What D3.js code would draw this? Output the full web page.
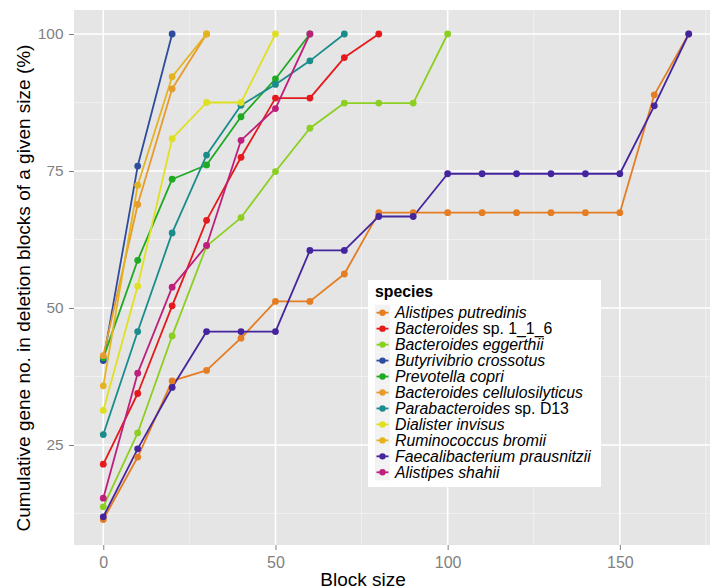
<!DOCTYPE html>
<html>
<head>
<meta charset="utf-8">
<script src="https://cdn.jsdelivr.net/npm/d3@7"></script>
<style>
  body { margin: 0; background: #fff; }
  svg { display: block; }
  text { font-family: "Liberation Sans", Arial, Helvetica, sans-serif; }
</style>
</head>
<body>
<svg id="chart" width="710" height="588"></svg>
<script>
// Block sizes on the x axis
const blockSize = [0, 10, 20, 30, 40, 50, 60, 70, 80, 90, 100, 110, 120, 130, 140, 150, 160, 170];

// Species, in legend / drawing order
const species = [
  "Alistipes putredinis",
  "Bacteroides sp. 1_1_6",
  "Bacteroides eggerthii",
  "Butyrivibrio crossotus",
  "Prevotella copri",
  "Bacteroides cellulosilyticus",
  "Parabacteroides sp. D13",
  "Dialister invisus",
  "Ruminococcus bromii",
  "Faecalibacterium prausnitzii",
  "Alistipes shahii"
];

// Cumulative gene share (%) per block size, starting at block size 0
const alistipesPutredinis = [11.4, 22.8, 36.7, 38.6, 44.5, 51.2, 51.2, 56.2, 67.4, 67.4, 67.4, 67.4, 67.4, 67.4, 67.4, 67.4, 88.9, 100];
const bacteroidesSp116 = [21.5, 34.4, 50.4, 66.0, 77.5, 88.3, 88.3, 95.7, 100];
const bacteroidesEggerthii = [13.7, 27.2, 44.9, 61.3, 66.5, 74.9, 82.8, 87.4, 87.4, 87.4, 100];
const butyrivibrioCrossotus = [40.4, 75.9, 100];
const prevotellaCopri = [40.9, 58.7, 73.5, 76.1, 84.9, 91.8, 100];
const bacteroidesCellulosilyticus = [41.3, 68.9, 90.0, 100];
const parabacteroidesSpD13 = [26.9, 45.7, 63.7, 77.9, 87.0, 90.8, 95.1, 100];
const dialisterInvisus = [31.3, 54.0, 80.9, 87.5, 87.5, 100];
const ruminococcusBromii = [35.8, 72.4, 92.2, 100];
const faecalibacteriumPrausnitzii = [11.9, 24.3, 35.5, 45.7, 45.7, 45.7, 60.5, 60.5, 66.7, 66.7, 74.5, 74.5, 74.5, 74.5, 74.5, 74.5, 86.9, 100];
const alistipesShahii = [15.3, 38.1, 53.8, 61.4, 80.6, 86.4, 100];

// Axis tick labels
const xTicks = [0, 50, 100, 150];
const yTicks = [25, 50, 75, 100];

const seriesValues = [
  alistipesPutredinis, bacteroidesSp116, bacteroidesEggerthii, butyrivibrioCrossotus,
  prevotellaCopri, bacteroidesCellulosilyticus, parabacteroidesSpD13, dialisterInvisus,
  ruminococcusBromii, faecalibacteriumPrausnitzii, alistipesShahii
];

const palette = [
  "#e57d22", "#e41a1c", "#8ccf21", "#2e4c9e", "#1eaa23", "#e69b2c",
  "#1b8c8c", "#e0e022", "#e4b420", "#45259e", "#bf1f7c"
];

const series = species.map((name, i) => ({
  name,
  color: palette[i],
  points: seriesValues[i].map((v, j) => ({ x: blockSize[j], y: v }))
}));

// Layout
const panel = { left: 74, top: 10, right: 718, bottom: 545 };

const x = d3.scaleLinear().domain([-8.5, 178.5]).range([panel.left, panel.right]);
const y = d3.scaleLinear().domain([6.75, 104.38]).range([panel.bottom, panel.top]);

const svg = d3.select("#chart");

// Panel background
svg.append("rect")
  .attr("x", panel.left).attr("y", panel.top)
  .attr("width", panel.right - panel.left).attr("height", panel.bottom - panel.top)
  .attr("fill", "#e5e5e5");

const grid = svg.append("g");
const xMinor = [25, 75, 125, 175];
const yMinor = [12.5, 37.5, 62.5, 87.5];

grid.selectAll(".xminor").data(xMinor).join("line")
  .attr("x1", d => x(d)).attr("x2", d => x(d))
  .attr("y1", panel.top).attr("y2", panel.bottom)
  .attr("stroke", "#f2f2f2").attr("stroke-width", 0.8);
grid.selectAll(".yminor").data(yMinor).join("line")
  .attr("y1", d => y(d)).attr("y2", d => y(d))
  .attr("x1", panel.left).attr("x2", panel.right)
  .attr("stroke", "#f2f2f2").attr("stroke-width", 0.8);
grid.selectAll(".xmajor").data(xTicks).join("line")
  .attr("x1", d => x(d)).attr("x2", d => x(d))
  .attr("y1", panel.top).attr("y2", panel.bottom)
  .attr("stroke", "#ffffff").attr("stroke-width", 1.6);
grid.selectAll(".ymajor").data(yTicks).join("line")
  .attr("y1", d => y(d)).attr("y2", d => y(d))
  .attr("x1", panel.left).attr("x2", panel.right)
  .attr("stroke", "#ffffff").attr("stroke-width", 1.6);

// Lines, then points, in species order
const line = d3.line().x(d => x(d.x)).y(d => y(d.y));
const plot = svg.append("g");

plot.selectAll(".series-line").data(series).join("path")
  .attr("class", "series-line")
  .attr("d", d => line(d.points))
  .attr("fill", "none")
  .attr("stroke", d => d.color)
  .attr("stroke-width", 1.8)
  .attr("stroke-linejoin", "round");

series.forEach(s => {
  plot.append("g").selectAll("circle").data(s.points).join("circle")
    .attr("cx", d => x(d.x)).attr("cy", d => y(d.y))
    .attr("r", 3.4).attr("fill", s.color);
});

// Axes
const tickColor = "#7f7f7f";
const xAxis = svg.append("g")
  .attr("transform", `translate(0,${panel.bottom})`)
  .call(d3.axisBottom(x).tickValues(xTicks).tickSize(5).tickPadding(6.5).tickFormat(d3.format("d")));
const yAxis = svg.append("g")
  .attr("transform", `translate(${panel.left},0)`)
  .call(d3.axisLeft(y).tickValues(yTicks).tickSize(5).tickPadding(5.5).tickFormat(d3.format("d")));

[xAxis, yAxis].forEach(a => {
  a.select(".domain").remove();
  a.selectAll(".tick line").attr("stroke", tickColor).attr("stroke-width", 1);
  a.selectAll(".tick text").attr("fill", tickColor)
    .attr("font-family", "'Liberation Sans', Arial, sans-serif");
});
xAxis.selectAll(".tick text").attr("font-size", 16);
yAxis.selectAll(".tick text").attr("font-size", 15.4);

// Axis titles
svg.append("text")
  .attr("x", 363).attr("y", 585.5)
  .attr("text-anchor", "middle")
  .attr("font-size", 19)
  .attr("fill", "#000")
  .text("Block size");

svg.append("text")
  .attr("transform", "translate(30,288) rotate(-90)")
  .attr("text-anchor", "middle")
  .attr("font-size", 19)
  .attr("fill", "#000")
  .text("Cumulative gene no. in deletion blocks of a given size (%)");

// Legend
const legend = svg.append("g");
legend.append("rect")
  .attr("x", 368).attr("y", 280).attr("width", 233).attr("height", 207)
  .attr("fill", "#ffffff");
legend.append("text")
  .attr("x", 375).attr("y", 297)
  .attr("font-size", 15.8).attr("font-weight", "bold")
  .text("species");

const itemTop = 312.7, itemStep = 15.96;
const items = legend.selectAll(".item").data(series).join("g")
  .attr("class", "item")
  .attr("transform", (d, i) => `translate(0,${itemTop + i * itemStep})`);

items.append("rect")
  .attr("x", 375).attr("y", -8).attr("width", 15).attr("height", 16)
  .attr("fill", "#f2f2f2");
items.append("line")
  .attr("x1", 376.5).attr("x2", 388.5).attr("y1", 0).attr("y2", 0)
  .attr("stroke", d => d.color).attr("stroke-width", 1.8);
items.append("circle")
  .attr("cx", 382.5).attr("cy", 0).attr("r", 3.2)
  .attr("fill", d => d.color);

const labels = items.append("text")
  .attr("x", 395).attr("y", 5.5)
  .attr("font-size", 15.8);
labels.each(function(d) {
  const t = d3.select(this);
  const k = d.name.indexOf(" sp. ");
  if (k >= 0) {
    t.append("tspan").attr("font-style", "italic").text(d.name.slice(0, k));
    t.append("tspan").text(d.name.slice(k));
  } else {
    t.append("tspan").attr("font-style", "italic").text(d.name);
  }
});
</script>
</body>
</html>
